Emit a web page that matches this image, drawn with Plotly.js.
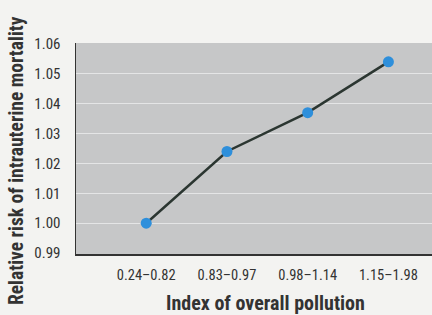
<!DOCTYPE html>
<html>
<head>
<meta charset="utf-8">
<script src="https://cdn.plot.ly/plotly-3.0.1.min.js"></script>
<style>html,body{margin:0;padding:0;background:#f3f3f1;}#chart{width:432px;height:315px;}</style>
</head>
<body>
<div id="chart"></div>
<script>
var categories = ["0.24\u20130.82", "0.83\u20130.97", "0.98\u20131.14", "1.15\u20131.98"];
var relativeRisk = [1.000, 1.024, 1.037, 1.054];
var yTicks = [0.99, 1.00, 1.01, 1.02, 1.03, 1.04, 1.05, 1.06];
var yTickLabels = ["0.99", "1.00", "1.01", "1.02", "1.03", "1.04", "1.05", "1.06"];
var xTitle = "Index of overall pollution";
var yTitle = "Relative risk of intrauterine mortality";

var fontFam = "'Liberation Sans Narrow', 'Roboto Condensed', 'Arial Narrow', Roboto, sans-serif";

var trace = {
  x: categories,
  y: relativeRisk,
  type: "scatter",
  mode: "lines+markers",
  line: {color: "#2b3631", width: 2.5},
  marker: {color: "#2e8fdb", size: 11},
  hoverinfo: "none"
};

var layout = {
  width: 432, height: 315,
  margin: {l: 76, r: 0, t: 43, b: 61},
  paper_bgcolor: "#f3f3f1",
  plot_bgcolor: "#c6c7c8",
  showlegend: false,
  font: {family: fontFam, color: "#333", size: 14.5},
  xaxis: {
    type: "category",
    range: [-0.87, 3.54],
    showgrid: false,
    zeroline: false,
    showline: true, linecolor: "#333", linewidth: 1.5,
    ticks: "", ticklen: 0,
    ticklabelstandoff: 7,
    tickfont: {family: fontFam, size: 14.5, color: "#333"}
  },
  yaxis: {
    range: [0.9897, 1.0603],
    tickvals: yTicks,
    ticktext: yTickLabels,
    showgrid: true, gridcolor: "#e4e5e6", gridwidth: 1,
    zeroline: false,
    showline: true, linecolor: "#333", linewidth: 1.5,
    ticks: "", ticklen: 0,
    ticklabelstandoff: 11,
    tickfont: {family: fontFam, size: 15, color: "#333"}
  },
  annotations: [
    {text: xTitle, xref: "paper", yref: "paper", x: 0.5337, y: -0.2322,
     xanchor: "center", yanchor: "middle", showarrow: false,
     font: {family: fontFam, size: 20, color: "#333", weight: "bold"}},
    {text: yTitle, xref: "paper", yref: "paper", x: -0.1657, y: 0.4408,
     xanchor: "center", yanchor: "middle", showarrow: false, textangle: -90,
     font: {family: fontFam, size: 19.5, color: "#333", weight: "bold"}}
  ]
};

Plotly.newPlot("chart", [trace], layout, {displayModeBar: false, staticPlot: true});
</script>
</body>
</html>
